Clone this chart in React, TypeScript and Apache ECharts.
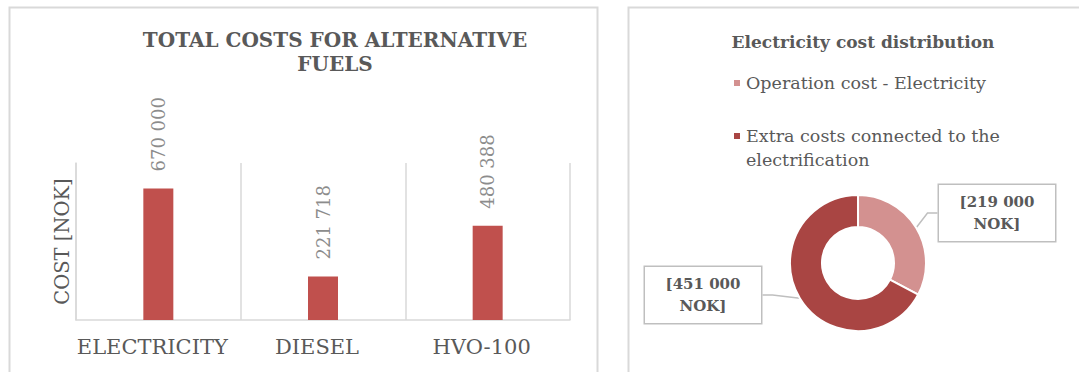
import React, { useEffect, useRef } from "react";
import * as echarts from "echarts";

const fuelCategories = ["ELECTRICITY", "DIESEL", "HVO-100"];
const fuelCosts = [670000, 221718, 480388];
const yAxisMax = 800000;

const pieNames = ["Operation cost - Electricity", "Extra costs connected to the electrification"];
const pieValues = [219000, 451000];
const pieColors = ["#d39190", "#a94543"];

const barTitle = "TOTAL COSTS FOR ALTERNATIVE\nFUELS";
const pieTitle = "Electricity cost distribution";
const yAxisName = "COST [NOK]";

const SERIF = "'DejaVu Serif', 'Liberation Serif', serif";

function fmt(v: number): string {
  return String(Math.round(v)).replace(/\B(?=(\d{3})+(?!\d))/g, " ");
}

export default function App() {
  const ref = useRef<HTMLDivElement>(null);
  useEffect(() => {
    if (!ref.current) return;
    const chart = echarts.init(ref.current, null, { renderer: "svg" });
    const labelPos = [
      { x: 997, y: 213 },
      { x: 703, y: 295 },
    ];
    const legendText = {
      fontFamily: SERIF,
      fontSize: 17.5,
      color: "#595959",
      lineHeight: 24,
    };
    chart.setOption({
      animation: false,
      backgroundColor: "#ffffff",
      textStyle: { fontFamily: SERIF },
      graphic: [
        {
          type: "rect",
          shape: { x: 9.5, y: 7.5, width: 588, height: 400 },
          style: { fill: "none", stroke: "#d9d9d9", lineWidth: 2 },
          silent: true,
        },
        {
          type: "rect",
          shape: { x: 628.5, y: 7.5, width: 500, height: 400 },
          style: { fill: "none", stroke: "#d9d9d9", lineWidth: 2 },
          silent: true,
        },
      ],
      title: [
        {
          text: barTitle,
          left: 330,
          top: 23,
          textAlign: "center",
          textStyle: {
            fontFamily: SERIF,
            fontSize: 20,
            fontWeight: "bold",
            color: "#595959",
            lineHeight: 24,
          },
        },
        {
          text: pieTitle,
          left: 858,
          top: 28,
          textAlign: "center",
          textStyle: {
            fontFamily: SERIF,
            fontSize: 17,
            fontWeight: "bold",
            color: "#595959",
          },
        },
      ],
      legend: [
        {
          orient: "vertical",
          left: 732,
          top: 71,
          padding: 0,
          itemWidth: 8,
          itemHeight: 8,
          icon: "rect",
          data: [pieNames[0]],
          textStyle: legendText,
        },
        {
          orient: "vertical",
          left: 732,
          top: 100,
          padding: 0,
          itemWidth: 8,
          itemHeight: 8,
          icon: "rect",
          data: [pieNames[1]],
          formatter: () => "\nExtra costs connected to the\nelectrification",
          textStyle: legendText,
        },
      ],
      grid: { left: 76, right: 509, top: 163, bottom: 52 },
      xAxis: {
        type: "category",
        data: fuelCategories,
        axisTick: { show: false },
        axisLine: { lineStyle: { color: "#d9d9d9", width: 1.5 } },
        splitLine: { show: true, interval: 0, lineStyle: { color: "#d9d9d9", width: 1.5 } },
        axisLabel: {
          interval: 0,
          margin: 16,
          padding: [0, 12, 0, 0],
          fontFamily: SERIF,
          fontSize: 21,
          color: "#595959",
        },
      },
      yAxis: {
        type: "value",
        min: 0,
        max: yAxisMax,
        axisLine: { show: true, lineStyle: { color: "#d9d9d9", width: 1.5 } },
        axisTick: { show: false },
        axisLabel: { show: false },
        splitLine: { show: false },
        name: yAxisName,
        nameLocation: "middle",
        nameRotate: 90,
        nameGap: 4,
        nameTextStyle: { fontFamily: SERIF, fontSize: 19.5, color: "#595959" },
      },
      series: [
        {
          type: "bar",
          data: fuelCosts,
          barWidth: 30,
          itemStyle: { color: "#c0504d" },
          label: {
            show: true,
            position: "top",
            rotate: 90,
            align: "left",
            verticalAlign: "middle",
            distance: 17,
            fontFamily: SERIF,
            fontSize: 18,
            color: "#8c8c8c",
            formatter: (p: any) => fmt(p.value),
          },
        },
        {
          type: "pie",
          center: [858, 263],
          radius: [36, 68],
          startAngle: 90,
          clockwise: true,
          avoidLabelOverlap: false,
          data: pieNames.map((n, i) => ({
            name: n,
            value: pieValues[i],
            itemStyle: { color: pieColors[i] },
          })),
          itemStyle: { borderColor: "#ffffff", borderWidth: 2 },
          label: {
            show: true,
            position: "outside",
            formatter: (p: any) => "[" + fmt(p.value) + "\nNOK]",
            fontFamily: SERIF,
            fontSize: 15,
            fontWeight: "bold",
            color: "#595959",
            lineHeight: 22,
            backgroundColor: "#ffffff",
            borderColor: "#bfbfbf",
            borderWidth: 1.5,
            width: 112,
            align: "center",
            padding: [6, 2, 6, 2],
          },
          labelLine: {
            show: true,
            length: 10,
            length2: 10,
            lineStyle: { color: "#bfbfbf", width: 1.5 },
          },
          labelLayout: (params: any) => {
            const p = labelPos[params.dataIndex];
            return { x: p.x, y: p.y, align: "center", verticalAlign: "middle" };
          },
        },
      ],
    });
    return () => chart.dispose();
  }, []);
  return (
    <div
      ref={ref}
      style={{ position: "fixed", left: 0, top: 0, width: 1079, height: 372 }}
    />
  );
}
